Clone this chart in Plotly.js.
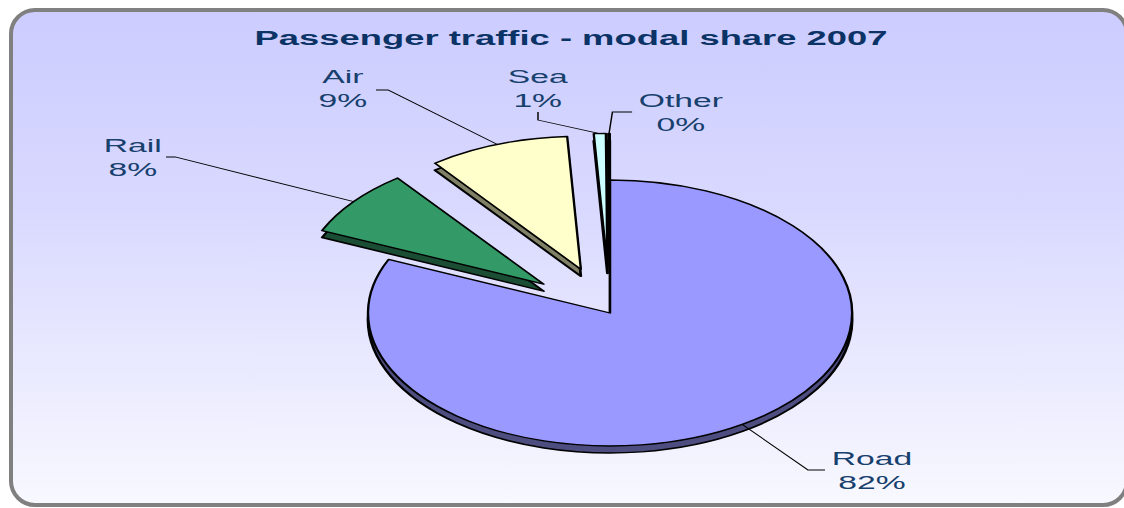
<!DOCTYPE html>
<html>
<head>
<meta charset="utf-8">
<script src="https://cdn.plot.ly/plotly-3.0.1.min.js"></script>
<style>
  html, body { margin: 0; padding: 0; background: #ffffff; overflow: hidden; }
  #frame {
    position: absolute; left: 9px; top: 8px; width: 1112px; height: 491px;
    border: 4px solid #808080; border-radius: 26px;
    background: linear-gradient(to bottom, #ccccff 0%, #d9d9ff 40%, #f8f8ff 100%);
  }
  /* the reference chart is stretched horizontally; draw at narrow width and stretch */
  #chart { position: absolute; left: 0; top: 0; width: 618px; height: 508px;
           transform: scaleX(1.82); transform-origin: 0 0; }
</style>
</head>
<body>
<div id="frame"></div>
<div id="chart"></div>
<script>
// ---- data ----
const categories = ["Road", "Rail", "Air", "Sea", "Other"];
const shares = [81.6, 8.1, 9.4, 0.8, 0.1];
const sliceColors = ["#9999ff", "#339966", "#ffffcc", "#ccffff", "#660066"];
const sideColors = ["#4d4d80", "#1a4d33", "#808066", "#668080", "#330033"];
const pulls = [0, 0.35, 0.35, 0.35, 0.35];

// ---- geometry (unstretched pixel space) ----
const W = 618, H = 508;
const CX = 335.2, CY = 313, R = 133, MAXPULL = 0.35, DEPTH = 7;
const halfW = 268, halfH = R * (1 + MAXPULL);
const domX = [(CX - halfW) / W, (CX + halfW) / W];
const domY = [(H - CY - halfH) / H, (H - CY + halfH) / H];
const domYside = [domY[0] - DEPTH / H, domY[1] - DEPTH / H];

// label placement: text centre and leader-line start/elbow (pixels)
const labelLayout = [
  { tx: 479.1, ty: 470, p0: [453.3, 470], p1: [444, 470] },
  { tx: 73.1,  ty: 157, p0: [91.2, 157],  p1: [96.2, 157] },
  { tx: 188.5, ty: 88,  p0: [206.6, 90],  p1: [213.2, 90] },
  { tx: 296.2, ty: 88,  p0: [295.6, 112], p1: [295.6, 120] },
  { tx: 373.6, ty: 112, p0: [347.3, 112], p1: [336.5, 112] }
];

const total = shares.reduce((a, b) => a + b, 0);
const px = x => x / W;
const py = y => 1 - y / H;

const shapes = [];
const annotations = [];
let cum = 0;
shares.forEach((v, i) => {
  const mid = (cum + v / 2) / total;
  cum += v;
  const th = mid * 2 * Math.PI;               // clockwise from 12 o'clock
  const d = R * (1 + pulls[i]);
  const ex = CX + d * Math.sin(th);
  const ey = CY - d * Math.cos(th);
  const L = labelLayout[i];
  shapes.push({
    type: "path", xref: "paper", yref: "paper",
    path: `M ${px(L.p0[0])} ${py(L.p0[1])} L ${px(L.p1[0])} ${py(L.p1[1])} L ${px(ex)} ${py(ey)}`,
    line: { color: "#000000", width: 0.8 }
  });
  annotations.push({
    xref: "paper", yref: "paper", x: px(L.tx), y: py(L.ty),
    xanchor: "center", yanchor: "middle", showarrow: false,
    text: categories[i] + "<br>" + Math.round(v / total * 100) + "%",
    font: { family: "Liberation Sans, Arial, sans-serif", size: 18.5, color: "#17406d" }
  });
});

const common = {
  type: "pie", labels: categories, values: shares, sort: false,
  direction: "clockwise", rotation: 0, pull: pulls,
  textinfo: "none", hoverinfo: "none", automargin: false, showlegend: false
};

const sideTrace = Object.assign({}, common, {
  name: "side",
  marker: { colors: sideColors, line: { color: "#000000", width: 1.5 } },
  domain: { x: domX, y: domYside }
});
const topTrace = Object.assign({}, common, {
  name: "top",
  marker: { colors: sliceColors, line: { color: "#000000", width: 1.3 } },
  domain: { x: domX, y: domY }
});

const layout = {
  width: W, height: H,
  margin: { l: 0, r: 0, t: 0, b: 0 },
  paper_bgcolor: "rgba(0,0,0,0)", plot_bgcolor: "rgba(0,0,0,0)",
  title: {
    text: "Passenger traffic - modal share 2007",
    font: { family: "Liberation Sans, Arial, sans-serif", size: 20, color: "#0b3366", weight: "bold" },
    x: 0.5077, xanchor: "center", y: 0.925, yanchor: "middle"
  },
  shapes: shapes,
  annotations: annotations,
  showlegend: false
};

Plotly.newPlot("chart", [sideTrace, topTrace], layout, { displayModeBar: false, staticPlot: true });
</script>
</body>
</html>
